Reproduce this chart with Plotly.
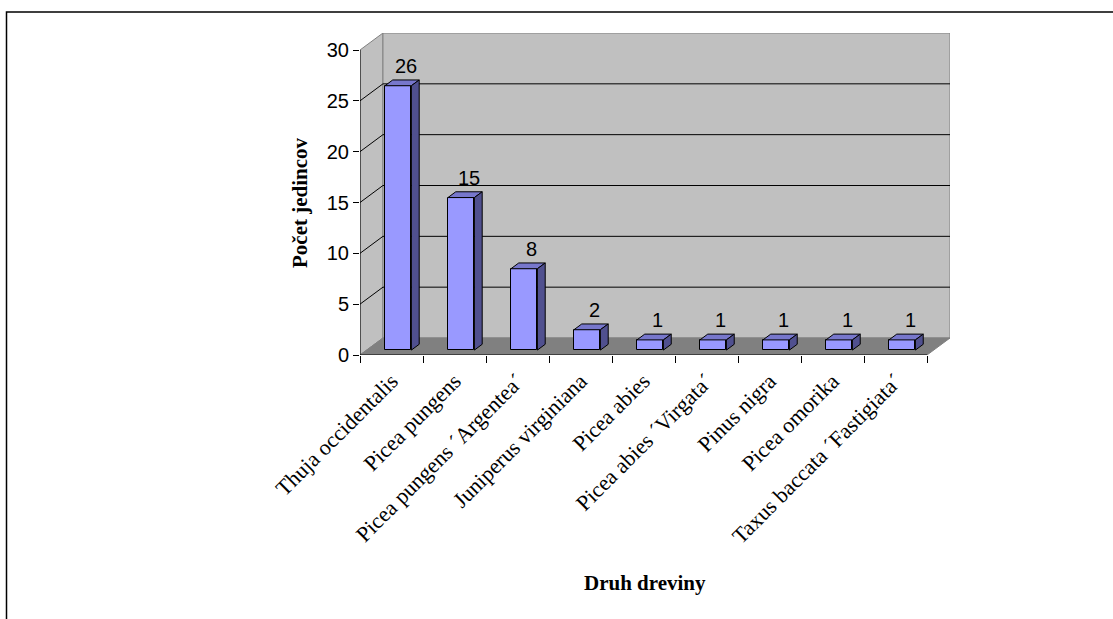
import plotly.graph_objects as go

# Data
species = [
    "Thuja occidentalis",
    "Picea pungens",
    "Picea pungens \u00b4Argentea\u00b4",
    "Juniperus virginiana",
    "Picea abies",
    "Picea abies \u00b4Virgata\u00b4",
    "Pinus nigra",
    "Picea omorika",
    "Taxus baccata \u00b4Fastigiata\u00b4",
]
counts = [26, 15, 8, 2, 1, 1, 1, 1, 1]
y_ticks = [0, 5, 10, 15, 20, 25, 30]

# 3D look: depth of the box (axis units) and bar placement inside it
DX, DY = 0.3645, 1.672
BAR_W = 0.42
F1, F2 = 0.29, 0.63

FRONT = "#9999FF"
TOP = "#7777CC"
SIDE = "#50508F"
WALL = "#C0C0C0"
FLOOR = "#808080"
SANS = "Liberation Sans, Arial, sans-serif"
SERIF = "Liberation Serif, Times New Roman, serif"

n = len(species)
ymax = max(y_ticks)

fig = go.Figure()

# front faces of the columns
centers = [i + 0.5 + F1 * DX for i in range(n)]
fig.add_trace(go.Bar(
    x=centers, y=counts, base=[F1 * DY] * n, width=BAR_W,
    marker=dict(color=FRONT, line=dict(color="black", width=1)),
    hoverinfo="skip", showlegend=False,
))

ddx, ddy = (F2 - F1) * DX, (F2 - F1) * DY
for i, v in enumerate(counts):
    x0 = i + 0.5 - BAR_W / 2 + F1 * DX
    x1 = x0 + BAR_W
    y0 = F1 * DY
    y1 = v + F1 * DY
    # top face
    fig.add_trace(go.Scatter(
        x=[x0, x1, x1 + ddx, x0 + ddx, x0],
        y=[y1, y1, y1 + ddy, y1 + ddy, y1],
        mode="lines", fill="toself", fillcolor=TOP,
        line=dict(color="black", width=1), hoverinfo="skip", showlegend=False,
    ))
    # right side face
    fig.add_trace(go.Scatter(
        x=[x1, x1 + ddx, x1 + ddx, x1, x1],
        y=[y0, y0 + ddy, y1 + ddy, y1, y0],
        mode="lines", fill="toself", fillcolor=SIDE,
        line=dict(color="black", width=1), hoverinfo="skip", showlegend=False,
    ))

shapes = []
# side wall, back wall, floor
shapes.append(dict(type="path", layer="below",
                   path=f"M 0 0 L {DX} {DY} L {DX} {ymax + DY} L 0 {ymax} Z",
                   fillcolor=WALL, line=dict(color=FLOOR, width=1)))
shapes.append(dict(type="rect", layer="below", x0=DX, y0=DY, x1=n + DX, y1=ymax + DY,
                   fillcolor=WALL, line=dict(color=FLOOR, width=1)))
shapes.append(dict(type="path", layer="below",
                   path=f"M 0 0 L {n} 0 L {n + DX} {DY} L {DX} {DY} Z",
                   fillcolor=FLOOR, line=dict(color=FLOOR, width=1)))
# gridlines on the back and side walls
for t in y_ticks[1:-1]:
    shapes.append(dict(type="line", layer="below", x0=DX, y0=t + DY, x1=n + DX, y1=t + DY,
                       line=dict(color="black", width=1)))
    shapes.append(dict(type="line", layer="below", x0=0, y0=t, x1=DX, y1=t + DY,
                       line=dict(color="black", width=1)))
# axis lines
shapes.append(dict(type="line", layer="below", x0=0, y0=0, x1=0, y1=ymax,
                   line=dict(color="black", width=1)))
shapes.append(dict(type="line", layer="below", x0=0, y0=0, x1=n, y1=0,
                   line=dict(color="black", width=1)))

# outer chart frame
L, R, T, B = 360, 163, 33, 264
W, H = 1113, 619
pw, ph = W - L - R, H - T - B
def px_x(p):
    return (p - L) / pw
def px_y(p):
    return (H - B - p) / ph
shapes.append(dict(type="rect", xref="paper", yref="paper",
                   x0=px_x(6.5), y0=px_y(630), x1=px_x(1125), y1=px_y(12),
                   line=dict(color="black", width=1.5), layer="above"))

annotations = []
for i, v in enumerate(counts):
    annotations.append(dict(
        x=i + 0.5 + F2 * DX, y=v + F2 * DY, text=str(v), showarrow=False,
        xanchor="center", yanchor="bottom", yshift=1,
        font=dict(family=SANS, size=20, color="black"),
    ))
annotations.append(dict(
    xref="paper", yref="paper", x=px_x(645), y=px_y(583), text="<b>Druh dreviny</b>",
    showarrow=False, xanchor="center", yanchor="middle",
    font=dict(family=SERIF, size=21, color="black"),
))
annotations.append(dict(
    xref="paper", yref="paper", x=px_x(300), y=px_y(203), text="<b>Počet jedincov</b>",
    showarrow=False, xanchor="center", yanchor="middle", textangle=-90,
    font=dict(family=SERIF, size=21, color="black"),
))

fig.update_layout(
    width=W, height=H,
    margin=dict(l=L, r=R, t=T, b=B, pad=0),
    paper_bgcolor="white", plot_bgcolor="white",
    shapes=shapes, annotations=annotations,
    showlegend=False, bargap=0,
    xaxis=dict(
        range=[0, n + DX], tickmode="array",
        tickvals=[i + 0.5 for i in range(n)], ticktext=species,
        tickangle=-45, ticks="", showgrid=False, zeroline=False, showline=False,
        tickfont=dict(family=SERIF, size=22, color="black"),
        ticklabelstandoff=8,
        minor=dict(tickmode="array", tickvals=list(range(n + 1)), ticks="outside",
                   ticklen=7, tickcolor="black", tickwidth=1, showgrid=False),
    ),
    yaxis=dict(
        range=[0, ymax + DY], tickmode="array", tickvals=y_ticks,
        ticks="outside", ticklen=6, tickcolor="black", tickwidth=1,
        showgrid=False, zeroline=False, showline=False,
        tickfont=dict(family=SANS, size=20, color="black"),
    ),
)

fig.write_html("out.html")
